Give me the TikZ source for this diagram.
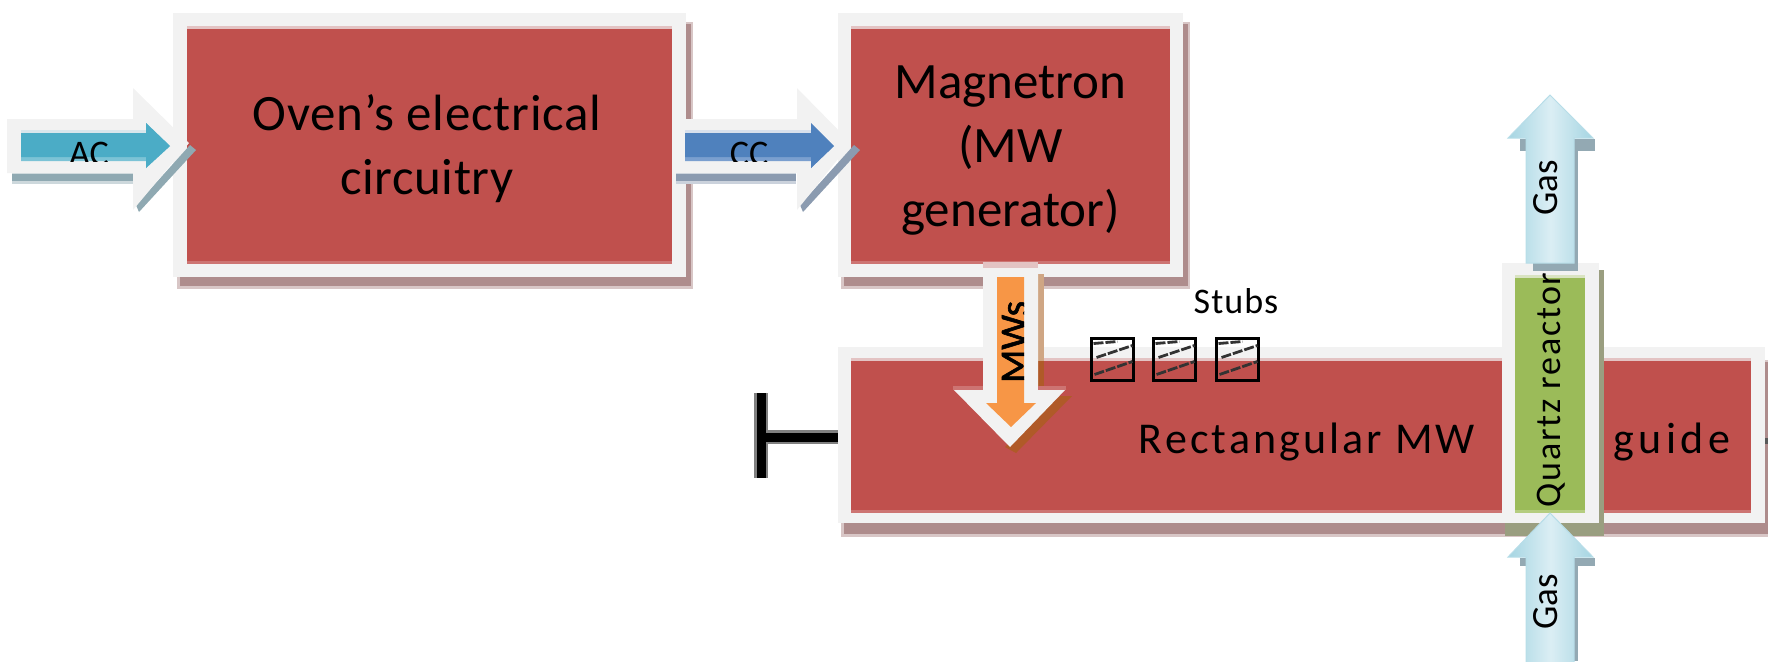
\documentclass[tikz,border=0pt]{standalone}
\usepackage{fontspec}
\setmainfont{Carlito}
\definecolor{frameC}{HTML}{F2F2F2}
\definecolor{redC}{HTML}{C0504D}
\definecolor{redT}{HTML}{E3C3C3}
\definecolor{redB}{HTML}{CD7472}
\definecolor{shadR}{HTML}{AE8C8C}
\definecolor{shadL}{HTML}{D8C6C6}
\definecolor{greenC}{HTML}{9BBB59}
\definecolor{greenT}{HTML}{D9E3C2}
\definecolor{greenB}{HTML}{B5CD7F}
\definecolor{shadG}{HTML}{9A9E80}
\definecolor{acC}{HTML}{4BACC6}
\definecolor{acL}{HTML}{7CC3D6}
\definecolor{acP}{HTML}{D8E6EC}
\definecolor{ccC}{HTML}{4F81BD}
\definecolor{ccL}{HTML}{7A9FCF}
\definecolor{ccP}{HTML}{D8E0EC}
\definecolor{orC}{HTML}{F79646}
\definecolor{orD}{HTML}{B05A28}
\definecolor{orS}{HTML}{CFA684}
\definecolor{gasE}{HTML}{A5D5E2}
\definecolor{gasM}{HTML}{DBEEF4}
\definecolor{gasS}{HTML}{93A9B3}
\definecolor{acS}{HTML}{8FA9B2}
\definecolor{ccS}{HTML}{8B9BB0}
\tikzset{
  x=0.5pt,y=-0.5pt,
  panelbox/.style={inner sep=0pt,outer sep=0pt,align=center,text=black},
  lbl/.style={inner sep=0pt,outer sep=0pt,text=black},
  bigtext/.style={font=\fontsize{25.5pt}{32pt}\selectfont},
  stubbox/.style={draw=black,line width=1.5pt,minimum width=21pt,minimum height=21pt,inner sep=0pt,outer sep=0pt},
  stubline/.style={draw=black!80,line width=1.4pt,dash pattern=on 5pt off 1pt},
  tbarg/.style={draw=black!50,line width=7pt},
  tbark/.style={draw=black,line width=4.5pt},
  gasfill/.style={left color=gasE,right color=gasE,middle color=gasM,draw=gasE!80!white,line width=0.5pt},
}
\newcommand{\xrect}[5]{\fill[#1] (#2,#3) rectangle (#4,#5);}
\begin{document}
\begin{tikzpicture}
\useasboundingbox (0,0) rectangle (1768,661);
\clip (0,0) rectangle (1768,661);

% ---------- Oven box
\xrect{shadL}{177}{22}{693}{289}
\xrect{shadR}{180}{24}{691}{286}
\xrect{frameC}{173}{13}{686}{277}
\xrect{redC}{187}{29}{672}{264}
\node[panelbox,bigtext,minimum width=242.5pt,minimum height=117.5pt] (oven) at (427,149) {\addfontfeature{LetterSpace=1.5}Oven’s electrical\\\addfontfeature{LetterSpace=1}circuitry};
\xrect{redT}{187}{26}{672}{29}
\xrect{redB}{187}{261}{672}{264}

% ---------- Magnetron box
\xrect{shadL}{841}{22}{1190}{289}
\xrect{shadR}{844}{24}{1188}{286}
\xrect{frameC}{838}{13}{1183}{277}
\xrect{redC}{851}{29}{1170}{264}
\node[panelbox,bigtext,minimum width=159.5pt,minimum height=117.5pt] (magn) at (1010.5,151) {Magnetron\\(MW\\generator)};
\xrect{redT}{851}{26}{1170}{29}
\xrect{redB}{851}{261}{1170}{264}

% ---------- Waveguide box
\xrect{shadL}{841}{360}{1768}{537}
\xrect{shadR}{844}{362}{1768}{534}
\xrect{frameC}{838}{347}{1765}{523}
\node[panelbox,fill=redC,minimum width=450pt,minimum height=76pt] (guide) at (1301,437) {};
\xrect{redT}{851}{358}{1751}{361}
\xrect{redB}{851}{510}{1751}{513}
\node[lbl,anchor=base,font=\fontsize{22pt}{26pt}\selectfont\addfontfeature{LetterSpace=7}] (guidetxt) at (1307,453) {Rectangular MW};
\node[lbl,anchor=base,font=\fontsize{22pt}{26pt}\selectfont\addfontfeature{LetterSpace=10}] (guidetxtb) at (1672,453) {guide};

% ---------- Short-circuit end
\coordinate (gleft) at (838,437);
\coordinate (tjoin) at (761,437);
\coordinate (ttop) at (761,393);
\coordinate (tbot) at (761,478);
\draw[tbarg] (gleft) -- (tjoin);
\draw[tbarg] (ttop) -- (tbot);
\draw[tbark] (gleft) -- (tjoin);
\draw[tbark] (ttop) -- (tbot);
\xrect{black!65}{1765}{438}{1768}{444}

% ---------- Stubs
\foreach \n/\cx in {1/1112.5,2/1174.5,3/1237.5}{
  \node[stubbox] (stub\n) at (\cx,359.5) {};
  \draw[stubline] ([shift={(-19,-16)}]stub\n.center) -- ([shift={(5,-18)}]stub\n.center);
  \draw[stubline] ([shift={(-16,-2)}]stub\n.center) -- ([shift={(20,-14)}]stub\n.center);
  \draw[stubline] ([shift={(-18,15)}]stub\n.center) -- ([shift={(20,2)}]stub\n.center);
}
\node[lbl,anchor=base,font=\fontsize{18pt}{20pt}\selectfont\addfontfeature{LetterSpace=3}] (stubs) at (1236,313) {Stubs};

% ---------- Quartz reactor
\xrect{shadG}{1505}{270}{1604}{536}
\xrect{frameC}{1502}{263}{1599}{523}
\node[inner sep=0pt,outer sep=0pt,fill=greenC,minimum width=35pt,minimum height=119pt] (quartz) at (1550,394) {};
\xrect{greenT}{1515}{275}{1585}{278}
\xrect{greenB}{1515}{510}{1585}{513}
\node[lbl,rotate=90,anchor=base,font=\fontsize{18pt}{22pt}\selectfont\addfontfeature{LetterSpace=5}] (quartztxt) at (1560,390) {Quartz reactor};

% ---------- AC arrow
\fill[acS!45!white] (12,173) rectangle (133,184);
\fill[acS] (12,174) rectangle (133,181);
\fill[acS] (139,212) -- (196,150) -- (190,145) -- (136,205) -- cycle;
\fill[frameC] (7,119) -- (133,119) -- (133,88) -- (189,143) -- (133,210) -- (133,173) -- (7,173) -- cycle;
\fill[acP] (21,130) rectangle (146,133);
\fill[acL] (21,133) -- (146,133) -- (146,123) -- (170,146) -- (146,168) -- (146,161) -- (21,161) -- cycle;
\fill[acC] (21,133) -- (146,133) -- (146,123) -- (170,146) -- (146,168) -- (146,157) -- (21,157) -- cycle;
\begin{scope}
  \clip (21,133) rectangle (146,161);
  \node[lbl,anchor=base,font=\fontsize{18pt}{20pt}\selectfont] (ac) at (89,165) {AC};
\end{scope}

% ---------- CC arrow
\fill[ccS!45!white] (676,173) rectangle (796,184);
\fill[ccS] (676,174) rectangle (796,181);
\fill[ccS] (803,212) -- (860,150) -- (854,145) -- (800,205) -- cycle;
\fill[frameC] (673,119) -- (797,119) -- (797,88) -- (851,143) -- (797,210) -- (797,173) -- (673,173) -- cycle;
\fill[ccP] (685,130) rectangle (811,133);
\fill[ccL] (685,133) -- (811,133) -- (811,123) -- (834,146) -- (811,168) -- (811,161) -- (685,161) -- cycle;
\fill[ccC] (685,133) -- (811,133) -- (811,123) -- (834,146) -- (811,168) -- (811,157) -- (685,157) -- cycle;
\begin{scope}
  \clip (685,133) rectangle (811,161);
  \node[lbl,anchor=base,font=\fontsize{18pt}{20pt}\selectfont] (cc) at (749,165) {CC};
\end{scope}

% ---------- MWs arrow
\fill[orS] (1038,274) rectangle (1044,361);
\fill[orD] (1038,361) rectangle (1044,396);
\fill[orD] (1060,396) -- (1072,396) -- (1016,453) -- (1005,447) -- cycle;
\fill[redT] (983,262) rectangle (1038,270);
\fill[frameC] (983,268) -- (1038,268) -- (1038,389) -- (1066,389) -- (1010,447) -- (953,389) -- (983,389) -- cycle;
\fill[redB] (953,386) rectangle (1066,390);
\fill[frameC] (983,380) rectangle (1038,392);
\fill[orC] (997,277) -- (1024,277) -- (1024,403) -- (1036,403) -- (1011,427) -- (986,403) -- (997,403) -- cycle;
\begin{scope}
  \clip (990,277) rectangle (1024,403);
  \node[lbl,rotate=90,anchor=base,font=\fontsize{19.5pt}{22pt}\selectfont\addfontfeature{FakeBold=1.5}] (mws) at (1027,342) {MWs};
\end{scope}

% ---------- Gas arrows
\fill[gasS] (1520,139) rectangle (1595,151);
\fill[gasS] (1574,150) rectangle (1578,269);
\fill[gasS] (1533,262) rectangle (1578,271);
\path[gasfill] (1550,95) -- (1593,138) -- (1574,138) -- (1574,263) -- (1526,263) -- (1526,138) -- (1508,138) -- cycle;
\node[lbl,rotate=90,anchor=base,font=\fontsize{18.5pt}{20pt}\selectfont] (gasa) at (1557,188) {Gas};

\fill[gasS] (1520,558) rectangle (1595,566);
\fill[gasS] (1574,566) rectangle (1578,661);
\path[gasfill] (1550,513) -- (1593,557) -- (1574,557) -- (1574,665) -- (1526,665) -- (1526,557) -- (1508,557) -- cycle;
\node[lbl,rotate=90,anchor=base,font=\fontsize{18.5pt}{20pt}\selectfont] (gasb) at (1557,602) {Gas};
\end{tikzpicture}
\end{document}
